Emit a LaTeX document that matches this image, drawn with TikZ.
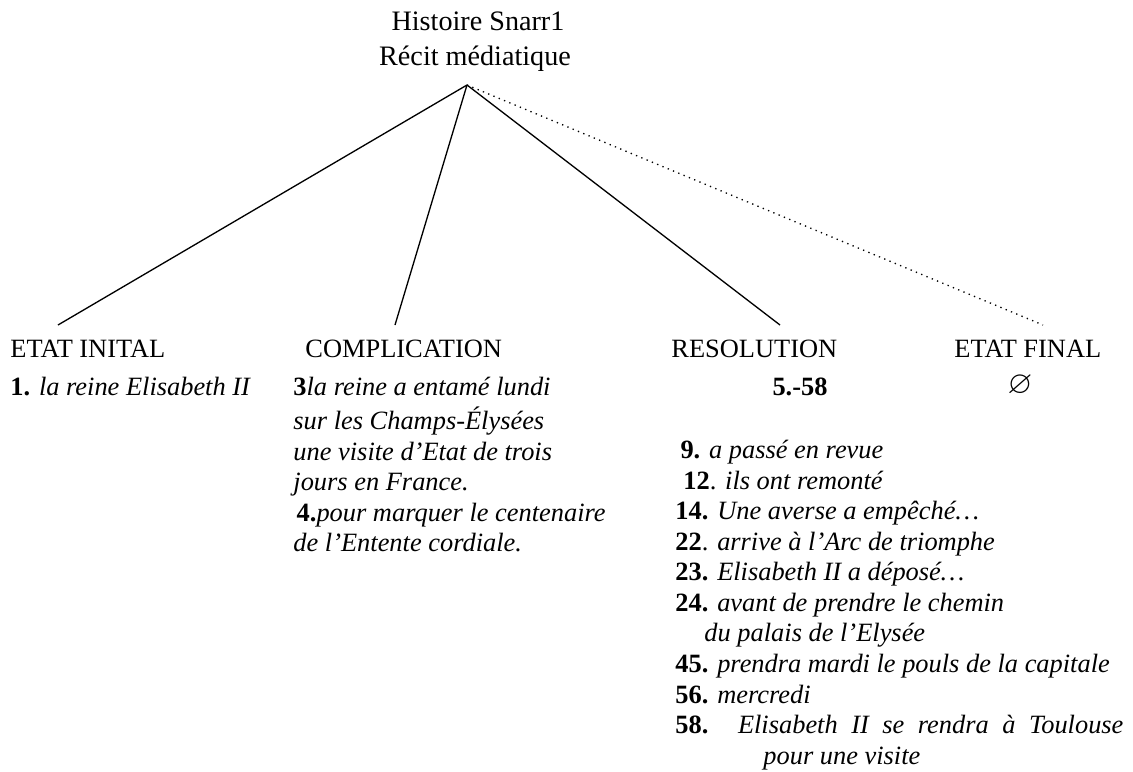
\documentclass[tikz,border=0pt]{standalone}
\usepackage{amssymb}
\usepackage{fontspec}
\setmainfont{LiberationSerif}[
  Extension=.ttf,
  UprightFont=*-Regular,
  BoldFont=*-Bold,
  ItalicFont=*-Italic,
  BoldItalicFont=*-BoldItalic]

\tikzset{
  title/.style={anchor=base, inner sep=0pt, font=\fontsize{12.8}{15}\selectfont},
  heading/.style={anchor=base west, inner sep=0pt, font=\fontsize{12}{13.9}\selectfont},
  items/.style={anchor=north west, inner sep=0pt, align=left, font=\fontsize{12}{13.9}\selectfont},
  branch/.style={line width=0.6pt},
}

\begin{document}
\begin{tikzpicture}[x=0.4545pt, y=-0.4545pt]

  % Page frame (pixel units, y downwards)
  \useasboundingbox (0,0) rectangle (1133,771);

  % Title
  \node[title] (story) at (478,30) {Histoire Snarr1};
  \node[title] (genre) at (475,65) {Récit médiatique};
  \coordinate (apex) at (467,85);

  % Headings
  \node[heading] (init) at (10,357) {ETAT INITAL};
  \node[heading] (compl) at (305,357) {COMPLICATION};
  \node[heading] (resol) at (671,357) {RESOLUTION};
  \node[heading] (final) at (954,357) {ETAT FINAL};

  % Branch ends
  \coordinate (init-end) at (58,325);
  \coordinate (compl-end) at (395,325);
  \coordinate (resol-end) at (780,325);
  \coordinate (final-end) at (1043,325);

  % Branches
  \draw[branch] (apex) -- (init-end);
  \draw[branch] (apex) -- (compl-end);
  \draw[branch] (apex) -- (resol-end);
  \draw[branch, dotted] (apex) -- (final-end);

  % Etat initial
  \node[items] (init-text) at (10,373.6)
    {\strut\textbf{1.} \textit{la reine Elisabeth II}};

  % Complication
  \node[items] (compl-text) at (293,373.6)
    {\strut\textbf{3}\textit{la reine a entamé lundi}\\
     \textit{sur les Champs-Élysées}\\
     \textit{une visite d’Etat de trois}\\
     \textit{jours en France.}\\
     \hspace*{1.5pt}\textbf{4.}\textit{pour marquer le centenaire}\\
     \textit{de l’Entente cordiale.}};

  % Resolution
  \node[heading, anchor=base, font=\bfseries\fontsize{12}{13.9}\selectfont] (resol-range) at (800,395) {5.-58};
  \node[items] (resol-text) at (675,436.6)
    {\strut\hspace*{2.3pt}\textbf{9.} \textit{a passé en revue}\\
     \hspace*{3.6pt}\textbf{12}. \textit{ils ont remonté}\\
     \textbf{14.} \textit{Une averse a empêché…}\\
     \textbf{22}. \textit{arrive à l’Arc de triomphe}\\
     \textbf{23.} \textit{Elisabeth II a déposé…}\\
     \textbf{24.} \textit{avant de prendre le chemin}\\
     \hspace*{13.2pt}\textit{du palais de l’Elysée}\\
     \textbf{45.} \textit{prendra mardi le pouls de la capitale}\\
     \textbf{56.} \textit{mercredi}\\
     \makebox[203.6pt][s]{\textbf{58.} \textit{Elisabeth II se rendra à Toulouse}}\\
     \hspace*{40pt}\textit{pour une visite}};

  % Etat final
  \node[inner sep=0pt, font=\fontsize{14.5}{16}\selectfont] (final-text) at (1020,386) {$\varnothing$};

\end{tikzpicture}
\end{document}
